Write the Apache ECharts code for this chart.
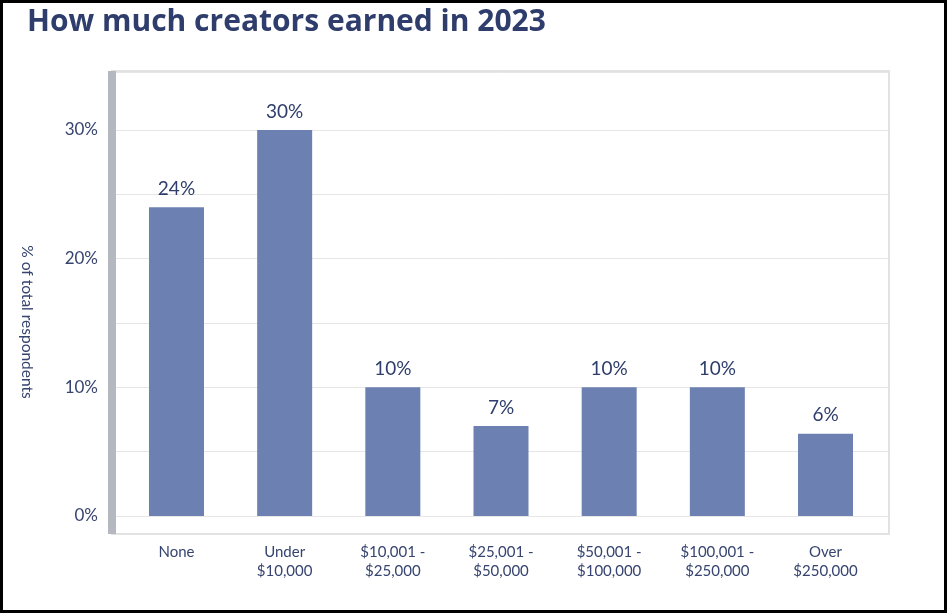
<!DOCTYPE html>
<html>
<head>
<meta charset="utf-8">
<script src="https://cdn.jsdelivr.net/npm/echarts@6/dist/echarts.min.js"></script>
<style>
html,body{margin:0;padding:0;background:#fff;}
#chart{position:absolute;left:0;top:0;width:947px;height:613px;}
#frame{position:absolute;left:0;top:0;width:947px;height:613px;box-sizing:border-box;border:3px solid #000;pointer-events:none;}
</style>
</head>
<body>
<div id="chart"></div>
<div id="frame"></div>
<script>
const titleText = 'How much creators earned in 2023';
const yAxisName = '% of total respondents';
const categories = ['None', 'Under\n$10,000', '$10,001 -\n$25,000', '$25,001 -\n$50,000', '$50,001 -\n$100,000', '$100,001 -\n$250,000', 'Over\n$250,000'];
const values = [24, 30, 10, 7, 10, 10, 6.4];
const yTickStep = 5;
const yLabelStep = 10;
const yMax = 34.5;

const navy = '#2e3d6b';
const labelColor = '#36446f';
const fontFam = 'Lato, "Noto Sans", sans-serif';
const titleFam = '"Open Sans", "Noto Sans", sans-serif';

const chart = echarts.init(document.getElementById('chart'));
chart.setOption({
  animation: false,
  title: {
    text: titleText, left: 22, top: 2,
    textStyle: {fontFamily: titleFam, fontWeight: 'bold', fontSize: 30, color: navy}
  },
  graphic: [{
    type: 'text', x: 27, y: 322, rotation: -Math.PI / 2,
    style: {text: yAxisName, fontFamily: fontFam, fontSize: 15.5, fill: labelColor, align: 'center', verticalAlign: 'middle'}
  }],
  grid: [
    {left: 112, right: 58, top: 71, bottom: 79, show: true, borderColor: '#e2e2e2', borderWidth: 2, backgroundColor: 'transparent'},
    {left: 116, right: 58, top: 72, bottom: 97},
    {left: 122.4, right: 67.4, top: 72, bottom: 97}
  ],
  xAxis: [
    {gridIndex: 0, type: 'value', show: false},
    {gridIndex: 1, type: 'value', show: false},
    {gridIndex: 2, type: 'category', data: categories,
     axisLine: {show: false}, axisTick: {show: false},
     axisLabel: {margin: 27, fontFamily: fontFam, fontSize: 15, lineHeight: 19, color: labelColor, interval: 0}}
  ],
  yAxis: [
    {gridIndex: 0, type: 'value', min: 0, max: 1,
     axisLine: {show: true, lineStyle: {color: '#b5b7c1', width: 8, cap: 'butt'}},
     axisTick: {show: false}, axisLabel: {show: false}, splitLine: {show: false}},
    {gridIndex: 1, type: 'value', min: 0, max: yMax, interval: yTickStep,
     axisLine: {show: false}, axisTick: {show: false},
     splitLine: {show: true, lineStyle: {color: '#e6e6e6', width: 1}},
     axisLabel: {margin: 18, fontFamily: fontFam, fontSize: 17, color: labelColor,
       formatter: v => (v % yLabelStep === 0 ? v + '%' : '')}},
    {gridIndex: 2, type: 'value', min: 0, max: yMax, show: false}
  ],
  series: [{
    type: 'bar', xAxisIndex: 2, yAxisIndex: 2, data: values, barWidth: 55,
    itemStyle: {color: '#6c81b1'},
    label: {show: true, position: 'top', distance: 9, fontFamily: fontFam, fontSize: 19, color: navy,
      formatter: p => Math.round(p.value) + '%'}
  }]
});
</script>
</body>
</html>
